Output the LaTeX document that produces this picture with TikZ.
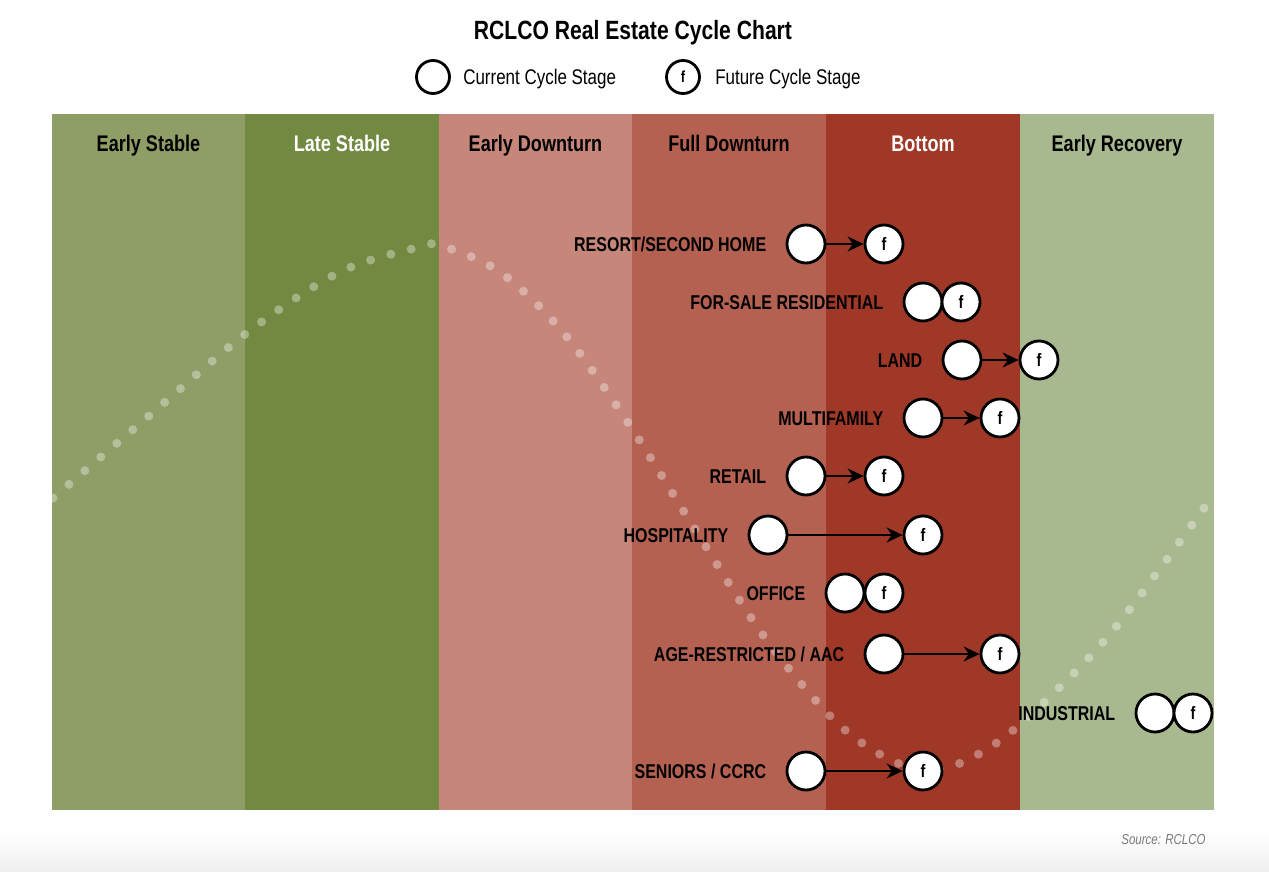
\documentclass[tikz,border=0pt]{standalone}
\usepackage{fontspec}
\setmainfont{Liberation Sans}[FakeStretch=0.8]
\usetikzlibrary{positioning,arrows.meta}

\definecolor{earlystable}{HTML}{8E9E66}
\definecolor{latestable}{HTML}{728942}
\definecolor{earlydown}{HTML}{C6877A}
\definecolor{fulldown}{HTML}{B46152}
\definecolor{bottom}{HTML}{A03828}
\definecolor{earlyrec}{HTML}{A9B98F}
\definecolor{sourcegray}{HTML}{7A7A7A}

\tikzset{
  stage/.style={circle, draw=black, line width=1.4pt, fill=white, minimum size=19pt, inner sep=0pt,
    font=\bfseries\fontsize{9}{9}\selectfont},
  keystage/.style={stage, minimum size=16.5pt, font=\bfseries\fontsize{8}{8}\selectfont},
  sector/.style={inner sep=0pt, text height=7.2pt, text depth=0pt, font=\bfseries\fontsize{10}{12}\selectfont},
  keytext/.style={inner sep=0pt, text height=7.6pt, text depth=0pt, font=\fontsize{10.6}{12}\selectfont},
  header/.style={anchor=base, font=\bfseries\fontsize{11.3}{13}\selectfont},
  move/.style={-{Stealth[length=8pt,width=7.5pt]}, line width=0.9pt},
  cycledots/.style={white, opacity=0.35, line width=4.5pt, line cap=round, dash pattern=on 0pt off 10.5pt},
}

\begin{document}
\begin{tikzpicture}[x=0.5pt, y=-0.5pt]
\useasboundingbox (0,0) rectangle (1269,872);
\shade[top color=white, bottom color=black!6] (0,830) rectangle (1269,872);

% title and key
\node[anchor=base, font=\bfseries\fontsize{13.2}{15}\selectfont] (title) at (633,40) {RCLCO Real Estate Cycle Chart};
\node[keystage] (curkey) at (433,77) {};
\node[keytext, right=6pt of curkey] (curtext) {Current Cycle Stage};
\node[keystage] (futkey) at (683,77) {f};
\node[keytext, right=7pt of futkey] (futtext) {Future Cycle Stage};

% stage columns
\fill[earlystable] (52,114) rectangle (245,810);
\fill[latestable] (245,114) rectangle (439,810);
\fill[earlydown] (439,114) rectangle (632,810);
\fill[fulldown] (632,114) rectangle (826,810);
\fill[bottom] (826,114) rectangle (1020,810);
\fill[earlyrec] (1020,114) rectangle (1214,810);

\node[header] (hes) at (148.5,152) {Early Stable};
\node[header, text=white] (hls) at (342,152) {Late Stable};
\node[header] (hed) at (535.5,152) {Early Downturn};
\node[header] (hfd) at (729,152) {Full Downturn};
\node[header, text=white] (hbt) at (923,152) {Bottom};
\node[header] (her) at (1117,152) {Early Recovery};

% the cycle
\draw[cycledots] plot[smooth, tension=0.55] coordinates {(53,498) (150,415) (248,332) (340,272) (420,247)
  (442,246) (500,272) (562,331) (625,418) (693,526) (763,635) (832,718) (883,756) (925,770)
  (965,761) (1018,726) (1110,634) (1214,494)};

% sectors
\node[stage] (resortc) at (806,244) {};
\node[stage] (resortf) at (884,244) {f};
\node[sector, left=9.5pt of resortc] (resortl) {RESORT/SECOND HOME};
\draw[move] (resortc) -- (resortf);

\node[stage] (forsalec) at (923,302) {};
\node[stage] (forsalef) at (961,302) {f};
\node[sector, left=9.5pt of forsalec] (forsalel) {FOR-SALE RESIDENTIAL};

\node[stage] (landc) at (962,360) {};
\node[stage] (landf) at (1039,360) {f};
\node[sector, left=9.5pt of landc] (landl) {LAND};
\draw[move] (landc) -- (landf);

\node[stage] (multic) at (923,418) {};
\node[stage] (multif) at (1000,418) {f};
\node[sector, left=9.5pt of multic] (multil) {MULTIFAMILY};
\draw[move] (multic) -- (multif);

\node[stage] (retailc) at (806,476) {};
\node[stage] (retailf) at (884,476) {f};
\node[sector, left=9.5pt of retailc] (retaill) {RETAIL};
\draw[move] (retailc) -- (retailf);

\node[stage] (hospc) at (768,535) {};
\node[stage] (hospf) at (923,535) {f};
\node[sector, left=9.5pt of hospc] (hospl) {HOSPITALITY};
\draw[move] (hospc) -- (hospf);

\node[stage] (officec) at (845,593) {};
\node[stage] (officef) at (884,593) {f};
\node[sector, left=9.5pt of officec] (officel) {OFFICE};

\node[stage] (agec) at (884,654) {};
\node[stage] (agef) at (1000,654) {f};
\node[sector, left=9.5pt of agec] (agel) {AGE-RESTRICTED / AAC};
\draw[move] (agec) -- (agef);

\node[stage] (indc) at (1155,713) {};
\node[stage] (indf) at (1193,713) {f};
\node[sector, left=9.5pt of indc] (indl) {INDUSTRIAL};

\node[stage] (seniorc) at (806,771) {};
\node[stage] (seniorf) at (923,771) {f};
\node[sector, left=9.5pt of seniorc] (seniorl) {SENIORS / CCRC};
\draw[move] (seniorc) -- (seniorf);

\node[anchor=east, inner sep=0pt, text=sourcegray, font=\itshape\fontsize{7.2}{8}\selectfont] (source) at (1206,840) {Source: RCLCO};
\end{tikzpicture}
\end{document}
